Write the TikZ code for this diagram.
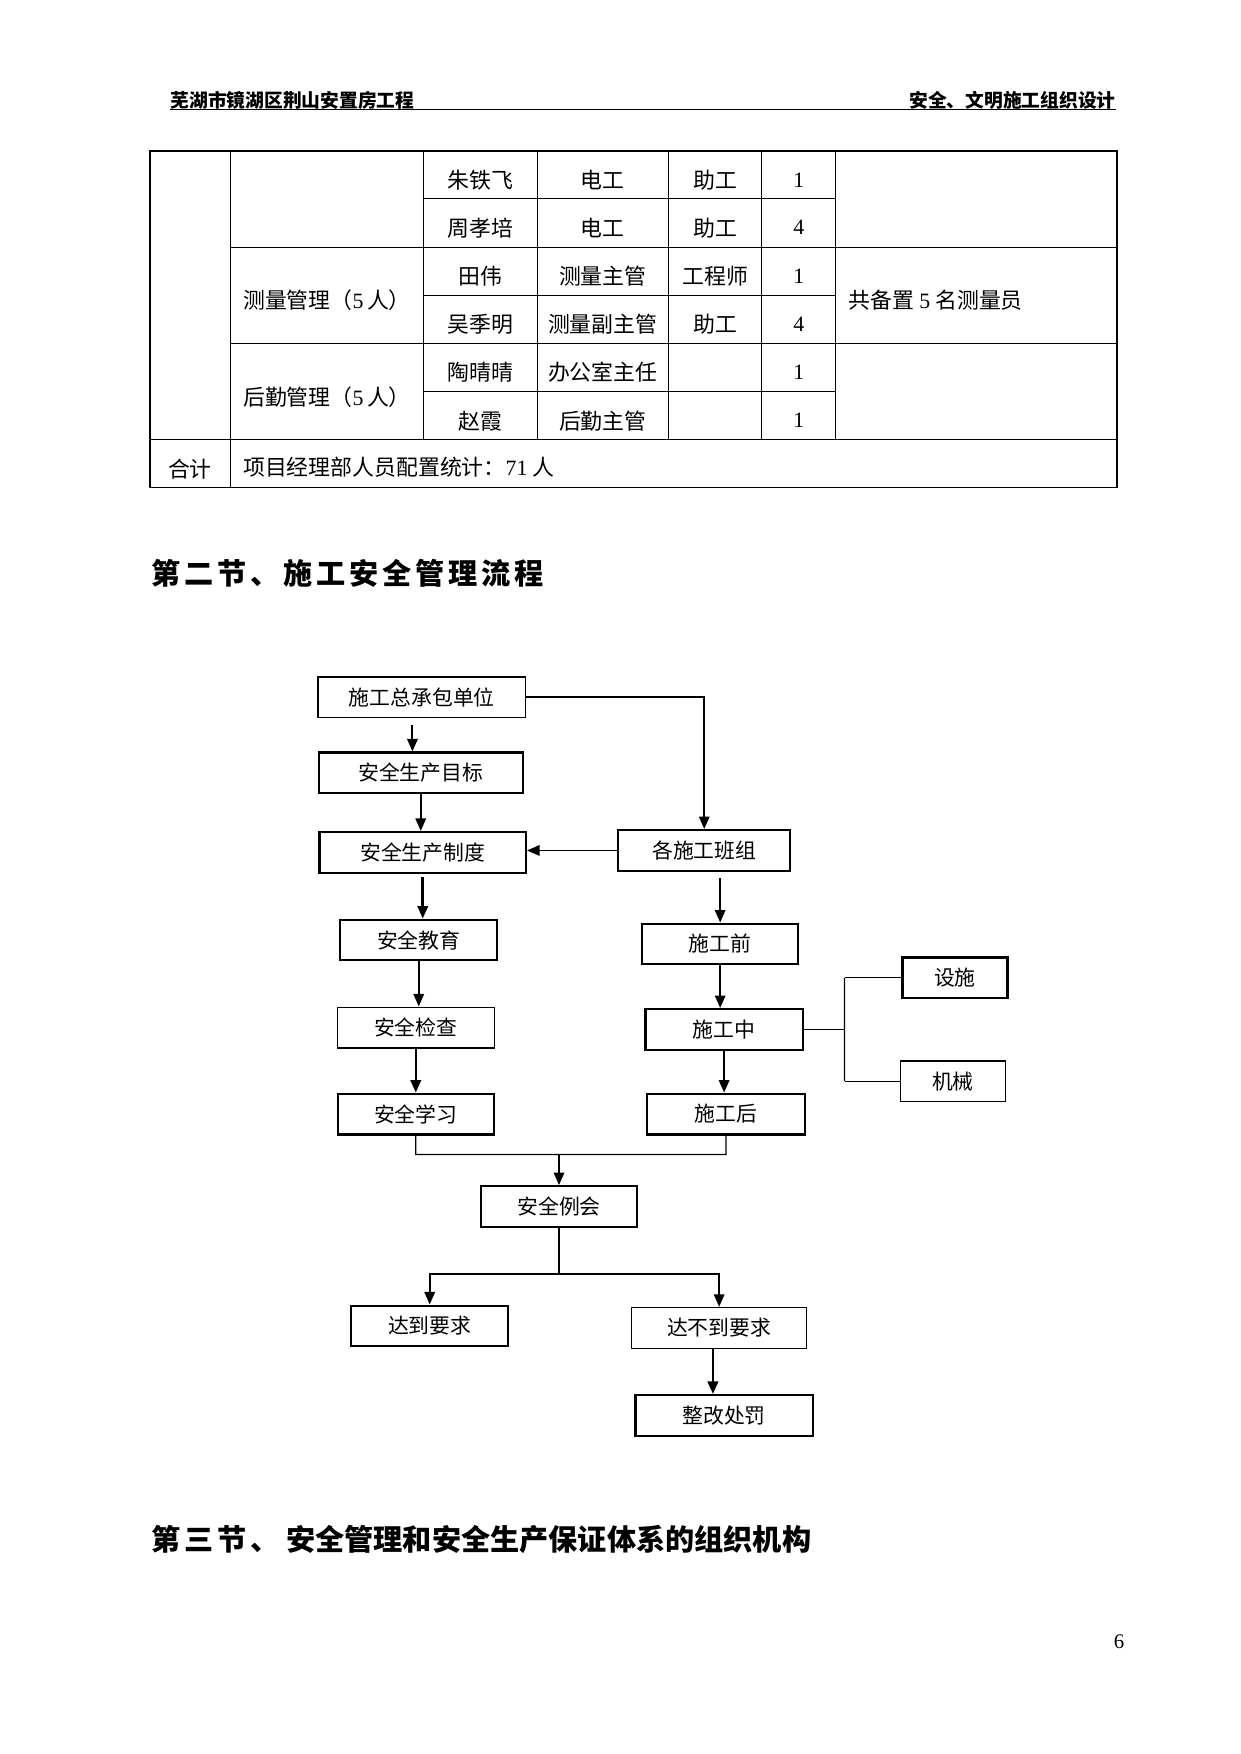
\documentclass[tikz,border=0pt]{standalone}
\usepackage{fontspec}
\setmainfont{Liberation Serif}
\newfontfamily\cjk{Noto Sans CJK SC}
\newfontfamily\cjkhead[LetterSpace=13]{Noto Sans CJK SC}
\usetikzlibrary{arrows.meta}
\newcommand\westnum[1]{{\rmfamily #1}}

\tikzset{
  box/.style={draw, line width=0.7pt, minimum height=19.5pt, inner sep=0pt,
    font=\cjk\fontsize{10pt}{12pt}\selectfont},
  boxthick/.style={box, line width=1.1pt},
  arr/.style={-{Triangle[length=6pt,width=5pt]}, line width=0.9pt},
  link/.style={line width=0.6pt},
  tline/.style={line width=0.5pt},
  cell/.style={inner sep=0pt, font=\cjk\fontsize{10.5pt}{12pt}\selectfont},
  numcell/.style={inner sep=0pt, font=\fontsize{10.5pt}{12pt}\selectfont},
}

\begin{document}
\begin{tikzpicture}[x=0.48pt, y=-0.48pt]
\useasboundingbox (0,0) rectangle (1241,1754);
\begin{scope}[scale=0.9947]

% page header
\node[anchor=west, inner sep=0pt, font=\cjk\bfseries\fontsize{9pt}{11pt}\selectfont] (hdleft) at (171,101) {芜湖市镜湖区荆山安置房工程};
\node[anchor=east, inner sep=0pt, font=\cjk\bfseries\fontsize{9pt}{11pt}\selectfont] (hdright) at (1122,101) {安全、文明施工组织设计};
\draw[line width=0.6pt] (171,110) -- (1122,110);

% staff table
\draw[line width=0.8pt] (151,152) rectangle (1123,490);
\draw[tline] (232,152) -- (232,490);
\foreach \x in {426,540,672,766,840}
  \draw[tline] (\x,152) -- (\x,442);
\foreach \y in {200,297,394}
  \draw[tline] (426,\y) -- (840,\y);
\foreach \y in {249,345}
  \draw[tline] (232,\y) -- (1123,\y);
\draw[tline] (151,442) -- (1123,442);

\foreach \i/\y/\nm/\job/\ttl/\n in {1/181/朱铁飞/电工/助工/1, 2/229/周孝培/电工/助工/4,
    3/278/田伟/测量主管/工程师/1, 4/326/吴季明/测量副主管/助工/4,
    5/374/陶晴晴/办公室主任//1, 6/423/赵霞/后勤主管//1} {
  \node[cell] (name\i) at (483,\y) {\nm};
  \node[cell] (job\i) at (606,\y) {\job};
  \node[cell] (title\i) at (719,\y) {\ttl};
  \node[numcell] (count\i) at (803,\y) {\n};
}
\node[cell, anchor=west] (celiang) at (244,302) {测量管理（\westnum{5}\,人）};
\node[cell, anchor=west] (houqin) at (244,399) {后勤管理（\westnum{5}\,人）};
\node[cell, anchor=west] (beizhu) at (853,302) {共备置 \westnum{5} 名测量员};
\node[cell] (heji) at (191,472) {合计};
\node[cell, anchor=west] (tongji) at (244,470) {项目经理部人员配置统计：\westnum{71} 人};

% section heading
\node[anchor=west, inner sep=0pt, font=\cjkhead\bfseries\fontsize{14pt}{16pt}\selectfont] (sec2) at (152,576) {第二节、施工安全管理流程};

% flow chart
\node[box, minimum width=99.4pt] (zong) at (424,701) {施工总承包单位};
\node[boxthick, minimum width=98pt] (mubiao) at (423,777) {安全生产目标};
\node[boxthick, minimum width=99pt] (zhidu) at (425,857) {安全生产制度};
\node[boxthick, minimum width=82.6pt] (banzu) at (708,855) {各施工班组};
\node[boxthick, minimum width=75.4pt] (jiaoyu) at (421,945) {安全教育};
\node[boxthick, minimum width=75pt] (qian) at (724,949) {施工前};
\node[box, minimum width=75.4pt] (jiancha) at (418,1033) {安全检查};
\node[boxthick, minimum width=75.4pt] (zhong) at (728,1035) {施工中};
\node[boxthick, minimum width=50.4pt] (sheshi) at (960,983) {设施};
\node[box, minimum width=50.4pt] (jixie) at (958,1087) {机械};
\node[boxthick, minimum width=75pt] (xuexi) at (418,1120) {安全学习};
\node[boxthick, minimum width=75.8pt] (hou) at (730,1120) {施工后};
\node[boxthick, minimum width=75pt] (lihui) at (562,1213) {安全例会};
\node[boxthick, minimum width=75.4pt] (dadao) at (432,1333) {达到要求};
\node[box, minimum width=84pt] (budao) at (723,1335) {达不到要求};
\node[boxthick, minimum width=85pt] (zhenggai) at (728,1423) {整改处罚};

\draw[arr, shorten <=3pt] ([xshift=-4.5pt]zong.south) -- ([xshift=-4.5pt]zong.south |- mubiao.north);
\draw[arr] (mubiao.south) -- (mubiao.south |- zhidu.north);
\draw[arr] (zong.east) -| (banzu.north);
\draw[arr] (banzu.west) -- (banzu.west -| zhidu.east);
\draw[arr, line width=1.2pt, shorten <=1.5pt] (zhidu.south) -- (zhidu.south |- jiaoyu.north);
\draw[arr] (jiaoyu.south) -- (jiaoyu.south |- jiancha.north);
\draw[arr, line width=1.2pt] (jiancha.south) -- (jiancha.south |- xuexi.north);
\draw[arr, shorten <=3pt] (banzu.south -| qian.north) -- (qian.north);
\draw[arr] (qian.south) -- (qian.south |- zhong.north);
\draw[arr] (zhong.south) -- (zhong.south |- hou.north);

\draw[link] (sheshi.west) -- ++(-57,0) coordinate (forkA);
\draw[link] (jixie.west) -- (jixie.west -| forkA) coordinate (forkB);
\draw[link] (forkA) -- (forkB);
\draw[link] (zhong.east) -- (zhong.east -| forkA);

\draw[link] (xuexi.south) -- ++(0,19) coordinate (mergeL) -- (mergeL -| hou.south) -- (hou.south);
\draw[arr] (mergeL -| lihui.north) -- (lihui.north);

\draw[link] (lihui.south) -- ++(0,46) coordinate (split);
\draw[arr] (split) -| (dadao.north);
\draw[arr] (split) -| (budao.north);
\draw[arr, line width=1.2pt] ([xshift=-3pt]budao.south) -- ([xshift=-3pt]budao.south |- zhenggai.north);

% next section heading
\node[anchor=west, inner sep=0pt, font=\cjk\bfseries\fontsize{14pt}{16pt}\selectfont] (sec3) at (152,1548) {{\cjkhead\bfseries 第三节、} 安全管理和安全生产保证体系的组织机构};

% page number
\node[font=\fontsize{10pt}{12pt}\selectfont] (pagenum) at (1125,1650) {6};
\end{scope}
\end{tikzpicture}
\end{document}
